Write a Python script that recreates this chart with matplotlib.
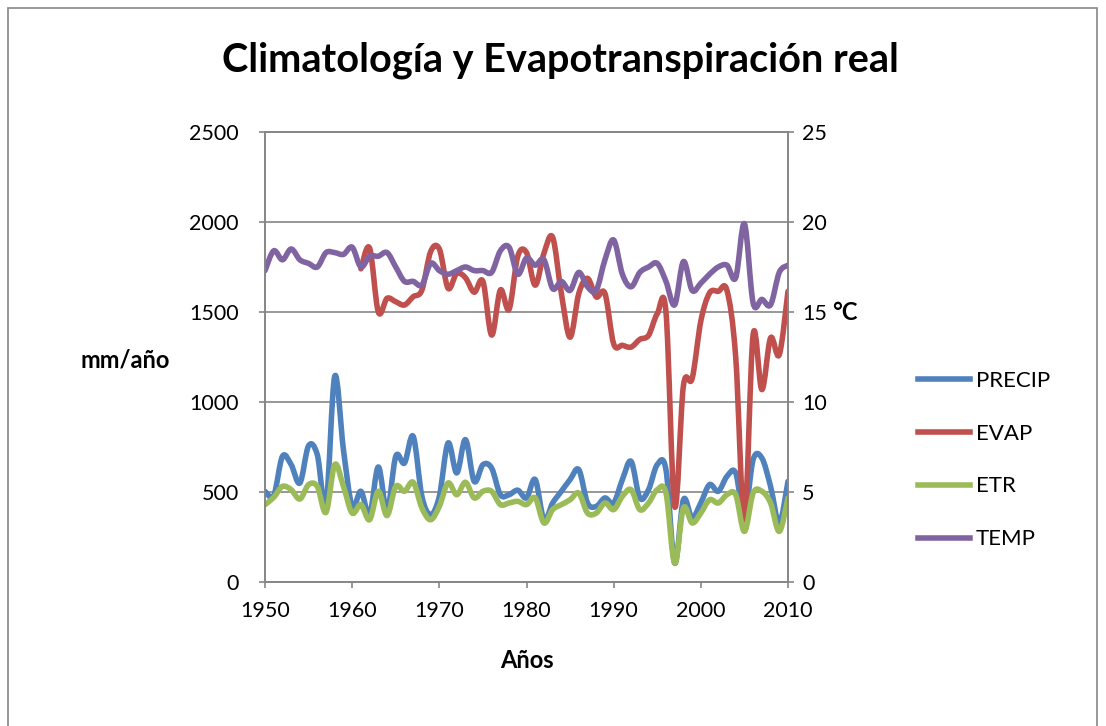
import numpy as np
import matplotlib
matplotlib.use('Agg')
from matplotlib import pyplot as plt
from matplotlib.path import Path
from matplotlib.patches import PathPatch, Rectangle
from matplotlib.lines import Line2D

plt.rcParams['font.family'] = ['Lato', 'DejaVu Sans']

# Datos anuales
years = list(range(1950, 2011))

precip = [504, 480, 698, 652, 550, 757, 707, 430, 1143, 735,
          420, 504, 374, 639, 393, 698, 661, 809, 476, 374,
          476, 772, 606, 791, 559, 652, 633, 485, 485, 510,
          467, 569, 346, 439, 504, 569, 624, 439, 420, 467,
          439, 569, 670, 467, 513, 652, 624, 105, 457, 356,
          440, 541, 504, 587, 606, 365, 680, 689, 531, 328,
          559]

# EVAP empieza en 1961
evap_years = list(range(1961, 2011))
evap = [1740, 1855, 1500, 1576, 1557, 1539, 1585, 1622, 1835,
        1850, 1632, 1715, 1690, 1610, 1670, 1372, 1622, 1515, 1810,
        1830, 1649, 1826, 1915, 1603, 1360, 1603, 1687, 1584, 1603,
        1323, 1315, 1305, 1348, 1370, 1490, 1500, 420, 1090, 1130,
        1450, 1606, 1615, 1620, 1250, 346, 1375, 1069, 1356, 1263,
        1615]

etr = [430, 470, 531, 513, 461, 541, 531, 387, 652, 531,
       383, 430, 346, 504, 369, 531, 504, 554, 411, 346,
       420, 550, 485, 554, 467, 504, 504, 430, 439, 448,
       430, 467, 328, 402, 430, 457, 494, 383, 383, 439,
       402, 476, 513, 402, 439, 513, 494, 105, 411, 328,
       383, 457, 439, 485, 485, 281, 494, 504, 439, 281,
       467]

temp = [17.3, 18.4, 17.9, 18.5, 17.9, 17.7, 17.5, 18.3, 18.3, 18.2,
        18.6, 17.5, 18.1, 18.1, 18.3, 17.5, 16.7, 16.7, 16.5, 17.7,
        17.3, 17.1, 17.3, 17.5, 17.3, 17.3, 17.2, 18.4, 18.6, 17.1,
        18.0, 17.6, 17.9, 16.3, 16.7, 16.2, 17.2, 16.4, 16.2, 17.9,
        19.0, 17.1, 16.4, 17.2, 17.5, 17.7, 16.7, 15.4, 17.8, 16.2,
        16.6, 17.1, 17.5, 17.6, 16.9, 19.9, 15.5, 15.7, 15.4, 17.2,
        17.6]

series_names = ['PRECIP', 'EVAP', 'ETR', 'TEMP']
colors = ['#4F81BD', '#C0504D', '#9BBB59', '#8064A2']
grey = '#868686'
LW = 4.0


def smooth_path(x, y):
    # curva suave tipo Excel (bezier cubica entre puntos)
    pts = np.column_stack([x, y]).astype(float)
    n = len(pts)
    verts = [pts[0]]
    codes = [Path.MOVETO]
    for i in range(n - 1):
        p0 = pts[max(i - 1, 0)]
        p1 = pts[i]
        p2 = pts[i + 1]
        p3 = pts[min(i + 2, n - 1)]
        c1 = p1 + (p2 - p0) / 6.0
        c2 = p2 - (p3 - p1) / 6.0
        verts += [c1, c2, p2]
        codes += [Path.CURVE4] * 3
    return Path(verts, codes)


def add_curve(ax, x, y, color):
    patch = PathPatch(smooth_path(x, y), facecolor='none', edgecolor=color,
                      lw=LW, capstyle='round', joinstyle='round')
    ax.add_patch(patch)


fig = plt.figure(figsize=(11.06, 7.26), dpi=100)
ax = fig.add_axes([265 / 1106, 1 - 582 / 726, 523 / 1106, 450 / 726])
ax2 = ax.twinx()

add_curve(ax, years, precip, colors[0])
add_curve(ax, evap_years, evap, colors[1])
add_curve(ax, years, etr, colors[2])
add_curve(ax2, years, temp, colors[3])

ax.set_xlim(1950, 2010)
ax.set_ylim(0, 2500)
ax2.set_ylim(0, 25)
ax.set_xticks(range(1950, 2011, 10))
ax.set_yticks(range(0, 2501, 500))
ax2.set_yticks(range(0, 26, 5))

ax.grid(axis='y', color=grey, lw=1.2)
ax.set_axisbelow(True)
for a in (ax, ax2):
    for s in a.spines.values():
        s.set_color(grey)
        s.set_linewidth(1.2)
    a.tick_params(colors=grey, labelcolor='black', labelsize=15.5, width=1.2, length=4)
ax.tick_params(axis='y', pad=15)
ax2.tick_params(axis='y', pad=6)
ax.tick_params(axis='x', pad=10)

fig.text(560 / 1106, 1 - 60 / 726, 'Climatología y Evapotranspiración real',
         ha='center', va='center', fontsize=28.5, fontweight='bold')
fig.text(125 / 1106, 1 - 360 / 726, 'mm/año', ha='center', va='center',
         fontsize=17, fontweight='bold')
fig.text(845 / 1106, 1 - 312 / 726, '°C', ha='center', va='center',
         fontsize=17, fontweight='bold')
fig.text(527 / 1106, 1 - 660 / 726, 'Años', ha='center', va='center',
         fontsize=17, fontweight='bold')

handles = [Line2D([], [], color=c, lw=LW) for c in colors]
fig.legend(handles, series_names, loc='center left',
           bbox_to_anchor=(898 / 1106, 1 - 460 / 726), frameon=False,
           fontsize=16, handlelength=2.35, handletextpad=0.25, labelspacing=1.48)

# marco del grafico
fig.patches.append(Rectangle((8 / 1106, -0.05), 1089 / 1106, 1 - 8 / 726 + 0.05,
                             transform=fig.transFigure, fill=False,
                             edgecolor=grey, lw=1.2))

fig.savefig('out.png', dpi=100)
